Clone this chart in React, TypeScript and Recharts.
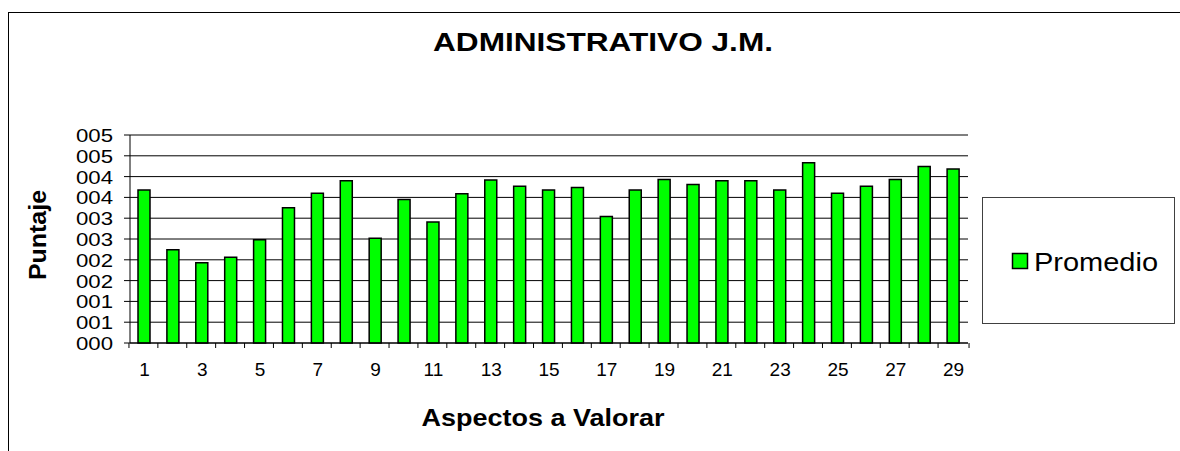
import { BarChart, Bar, XAxis, YAxis, CartesianGrid, ReferenceLine, Label } from 'recharts'

// valores (escala 0–5)
const ASPECTOS = Array.from({ length: 29 }, (_, i) => String(i + 1))
const PROMEDIO = [
  3.68, 2.24, 1.93, 2.06, 2.48, 3.25, 3.6, 3.9, 2.52, 3.45, 2.91, 3.59, 3.92, 3.77, 3.68,
  3.74, 3.04, 3.68, 3.93, 3.81, 3.9, 3.9, 3.68, 4.33, 3.6, 3.77, 3.93, 4.24, 4.18,
]
const Y_TICKS = [0, 0.5, 1, 1.5, 2, 2.5, 3, 3.5, 4, 4.5, 5]
const SERIE = 'Promedio'

const data = ASPECTOS.map((a, i) => ({ aspecto: a, promedio: PROMEDIO[i] }))

const FONT = '"Liberation Sans", Arial, sans-serif'
const GREEN = '#00ff00'
const W = 1172
const H = 443
const MARGIN = { top: 127, right: 212, bottom: 68, left: 62 }
const PLOT_W = W - MARGIN.left - MARGIN.right
const BAND = PLOT_W / ASPECTOS.length

const fmtY = (v: number) => String(Math.round(v)).padStart(3, '0')

function XTick(props: any) {
  const { x, y, payload, index } = props
  const half = BAND / 2
  return (
    <g>
      <line x1={x - half} x2={x - half} y1={y} y2={y + 5} stroke="#000" />
      {index === ASPECTOS.length - 1 && <line x1={x + half} x2={x + half} y1={y} y2={y + 5} stroke="#000" />}
      {index % 2 === 0 && (
        <text x={x} y={y + 33} textAnchor="middle" fontFamily={FONT} fontSize={19} fill="#000">
          {payload.value}
        </text>
      )}
    </g>
  )
}

function YTick(props: any) {
  const { x, y, payload } = props
  return (
    <text
      x={x}
      y={y}
      dy={7}
      textAnchor="end"
      fontFamily={FONT}
      fontSize={19}
      fill="#000"
      textLength={37}
      lengthAdjust="spacingAndGlyphs"
    >
      {fmtY(payload.value)}
    </text>
  )
}

function LegendBox() {
  return (
    <div
      style={{
        position: 'absolute',
        left: 974,
        top: 189,
        width: 193,
        height: 127,
        boxSizing: 'border-box',
        border: '1px solid #404040',
        background: '#fff',
      }}
    >
      <svg width={191} height={125} style={{ display: 'block' }}>
        <rect x={29.5} y={55.5} width={15} height={15} fill={GREEN} stroke="#000" strokeWidth={1.5} />
        <text x={51} y={73} fontFamily={FONT} fontSize={26} fill="#000" textLength={124} lengthAdjust="spacingAndGlyphs">
          {SERIE}
        </text>
      </svg>
    </div>
  )
}

export default function App() {
  // contenedor fijo: el #root recorta lo que sobresale de su ancho
  return (
    <div style={{ position: 'fixed', left: 8, top: 8, width: W, height: H, fontFamily: FONT, background: '#fff' }}>
      {/* marco exterior: solo borde superior e izquierdo visibles */}
      <div
        style={{
          position: 'absolute',
          left: 0,
          top: 4,
          width: W,
          height: H - 4,
          boxSizing: 'border-box',
          borderTop: '1px solid #000',
          borderLeft: '1px solid #000',
        }}
      />
      <svg width={W} height={80} style={{ position: 'absolute', left: 0, top: 0 }}>
        <text
          x={595}
          y={43}
          textAnchor="middle"
          fontFamily={FONT}
          fontWeight="bold"
          fontSize={25}
          fill="#000"
          textLength={340}
          lengthAdjust="spacingAndGlyphs"
        >
          ADMINISTRATIVO J.M.
        </text>
      </svg>
      <BarChart width={W} height={H} data={data} margin={MARGIN} barSize={12}>
        <CartesianGrid horizontal vertical={false} stroke="#000" />
        <XAxis
          dataKey="aspecto"
          interval={0}
          height={40}
          tickLine={false}
          tickSize={0}
          tickMargin={0}
          axisLine={{ stroke: '#000' }}
          tick={<XTick />}
        >
          <Label
            content={(p: any) => {
              const vb = p.viewBox
              return (
                <text
                  x={vb.x + vb.width / 2 - 6}
                  y={vb.y + 83}
                  textAnchor="middle"
                  fontFamily={FONT}
                  fontWeight="bold"
                  fontSize={24}
                  fill="#000"
                  textLength={243}
                  lengthAdjust="spacingAndGlyphs"
                >
                  Aspectos a Valorar
                </text>
              )
            }}
          />
        </XAxis>
        <YAxis
          yAxisId={0}
          domain={[0, 5]}
          ticks={Y_TICKS}
          interval={0}
          width={60}
          tickSize={6}
          tickMargin={11}
          tickLine={{ stroke: '#000' }}
          axisLine={{ stroke: '#000' }}
          tick={<YTick />}
        >
          <Label
            content={(p: any) => {
              const vb = p.viewBox
              const cx = 30
              const cy = vb.y + vb.height / 2 - 4
              return (
                <text
                  x={cx}
                  y={cy}
                  transform={`rotate(-90 ${cx} ${cy})`}
                  dy={8}
                  textAnchor="middle"
                  fontFamily={FONT}
                  fontWeight="bold"
                  fontSize={23}
                  fill="#000"
                  textLength={90}
                  lengthAdjust="spacingAndGlyphs"
                >
                  Puntaje
                </text>
              )
            }}
          />
        </YAxis>
        <YAxis
          yAxisId="r"
          orientation="right"
          domain={[0, 5]}
          width={0}
          tick={false}
          tickLine={false}
          axisLine={{ stroke: '#808080' }}
        />
        <ReferenceLine y={5} yAxisId={0} stroke="#808080" />
        <Bar
          dataKey="promedio"
          name={SERIE}
          fill={GREEN}
          stroke="#000"
          strokeWidth={1.5}
          isAnimationActive={false}
        />
      </BarChart>
      <LegendBox />
    </div>
  )
}
